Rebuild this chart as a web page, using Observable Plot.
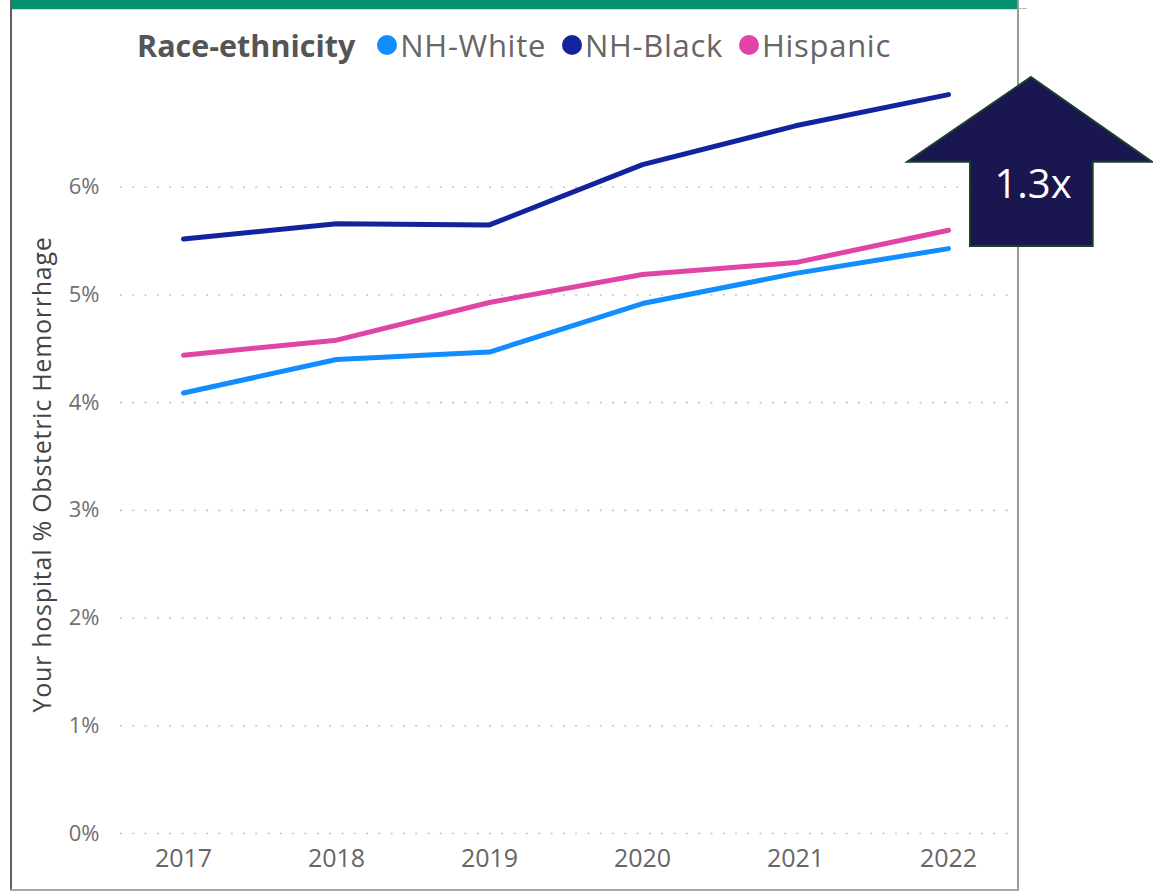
<!DOCTYPE html>
<html>
<head>
<meta charset="utf-8">
<script src="https://cdn.jsdelivr.net/npm/d3@7"></script>
<script src="https://cdn.jsdelivr.net/npm/@observablehq/plot@0.6"></script>
<style>
  html, body { margin: 0; padding: 0; background: #fff; }
  #wrap { position: relative; width: 1153px; height: 892px; overflow: hidden; background: #fff; font-family: "Open Sans", sans-serif; }
  #wrap > svg.plot { position: absolute; left: 0; top: 0; }
  .border-left { position: absolute; left: 10px; top: 0; width: 2px; height: 891px; background: #5f5f5f; }
  .border-right { position: absolute; left: 1017px; top: 0; width: 2px; height: 891px; background: #9a9a9a; }
  .border-bottom { position: absolute; left: 10px; top: 889px; width: 1009px; height: 2px; background: #a8a8a8; }
  .topbar { position: absolute; left: 12px; top: 0; width: 1005px; height: 9px; background: #03916f; border-bottom: 1px solid #bfe2d6; }
  .stub { position: absolute; left: 1019px; top: 8px; width: 8px; height: 1px; background: #bbb; }
  #legend { position: absolute; left: 137px; top: 24px; height: 42px; display: flex; align-items: center; white-space: nowrap; }
  #legend .title { font-weight: 700; font-size: 30.5px; color: #555; margin-right: 22px; }
  #legend .item { display: flex; align-items: center; margin-right: 16px; }
  #legend .dot { width: 20px; height: 20px; border-radius: 50%; margin-right: 3px; }
  #legend .lab { font-size: 31px; color: #666; letter-spacing: 0.7px; }
  #overlay { position: absolute; left: 0; top: 0; }
</style>
</head>
<body>
<div id="wrap">
  <div class="topbar"></div>
  <div class="stub"></div>
  <div class="border-left"></div>
  <div class="border-right"></div>
  <div class="border-bottom"></div>
  <div id="legend"></div>
</div>
<script>
// ---- data ----
const years = ["2017", "2018", "2019", "2020", "2021", "2022"];
const nhWhite = [4.09, 4.40, 4.47, 4.92, 5.20, 5.43];
const nhBlack = [5.52, 5.66, 5.65, 6.21, 6.57, 6.86];
const hispanic = [4.44, 4.58, 4.93, 5.19, 5.30, 5.60];
const seriesNames = ["NH-White", "NH-Black", "Hispanic"];
const seriesColors = ["#118DFF", "#12239E", "#E044A7"];
const yTicks = [0, 1, 2, 3, 4, 5, 6];
const legendTitle = "Race-ethnicity";
const yTitle = "Your hospital % Obstetric Hemorrhage";
const ratioLabel = "1.3x";

const seriesValues = [nhWhite, nhBlack, hispanic];
const rows = [];
seriesNames.forEach((name, i) => {
  years.forEach((yr, j) => rows.push({ series: name, year: yr, value: seriesValues[i][j] }));
});

const wrap = document.getElementById("wrap");

// legend
const legend = document.getElementById("legend");
const t = document.createElement("span");
t.className = "title"; t.textContent = legendTitle;
legend.appendChild(t);
seriesNames.forEach((name, i) => {
  const item = document.createElement("span"); item.className = "item";
  const dot = document.createElement("span"); dot.className = "dot"; dot.style.background = seriesColors[i];
  const lab = document.createElement("span"); lab.className = "lab"; lab.textContent = name;
  item.appendChild(dot); item.appendChild(lab);
  legend.appendChild(item);
});

const chart = Plot.plot({
  width: 1153,
  height: 892,
  marginLeft: 120,
  marginRight: 142,
  marginTop: 79,
  marginBottom: 59,
  style: { fontFamily: "Open Sans, sans-serif", background: "transparent", overflow: "visible" },
  x: { type: "point", domain: years, padding: 0.4 },
  y: { domain: [0, 7] },
  color: { domain: seriesNames, range: seriesColors },
  marks: [
    Plot.gridY(yTicks, { stroke: "#c4c4c4", strokeOpacity: 1, strokeWidth: 1.6, strokeDasharray: "2,10.3" }),
    Plot.axisY(yTicks, { tickSize: 0, tickPadding: 21, tickFormat: d => d + "%", fontSize: 22, color: "#707070", label: null }),
    Plot.axisX({ tickSize: 0, tickPadding: 16, fontSize: 25, color: "#666", label: null }),
    Plot.text([yTitle], { frameAnchor: "left", textAnchor: "middle", lineAnchor: "middle", rotate: -90, dx: -78, dy: 18, fontSize: 25, fill: "#444", text: d => d, style: "letter-spacing:0.75px" }),
    Plot.line(rows, { x: "year", y: "value", z: "series", stroke: "series", strokeWidth: 5, strokeLinecap: "round", strokeLinejoin: "round" })
  ]
});
chart.classList.add("plot");
// letter-spacing for the axis title
chart.querySelectorAll("text").forEach(el => { if (el.textContent === yTitle) el.setAttribute("letter-spacing", "0.75"); });
wrap.insertBefore(chart, legend);

// annotation arrow overlay
const ns = "http://www.w3.org/2000/svg";
const ov = document.createElementNS(ns, "svg");
ov.setAttribute("id", "overlay");
ov.setAttribute("width", 1153);
ov.setAttribute("height", 892);
const poly = document.createElementNS(ns, "polygon");
poly.setAttribute("points", "1031,77 1152,161.7 1092.7,161.7 1092.7,246 970,246 970,161.7 907.3,161.7");
poly.setAttribute("fill", "#1a1750");
poly.setAttribute("stroke", "#1c3f2e");
poly.setAttribute("stroke-width", "2");
ov.appendChild(poly);
const txt = document.createElementNS(ns, "text");
txt.setAttribute("x", 1033);
txt.setAttribute("y", 198);
txt.setAttribute("text-anchor", "middle");
txt.setAttribute("fill", "#fff");
txt.setAttribute("font-family", "Open Sans, sans-serif");
txt.setAttribute("font-size", "40");
txt.textContent = ratioLabel;
ov.appendChild(txt);
wrap.appendChild(ov);
</script>
</body>
</html>
